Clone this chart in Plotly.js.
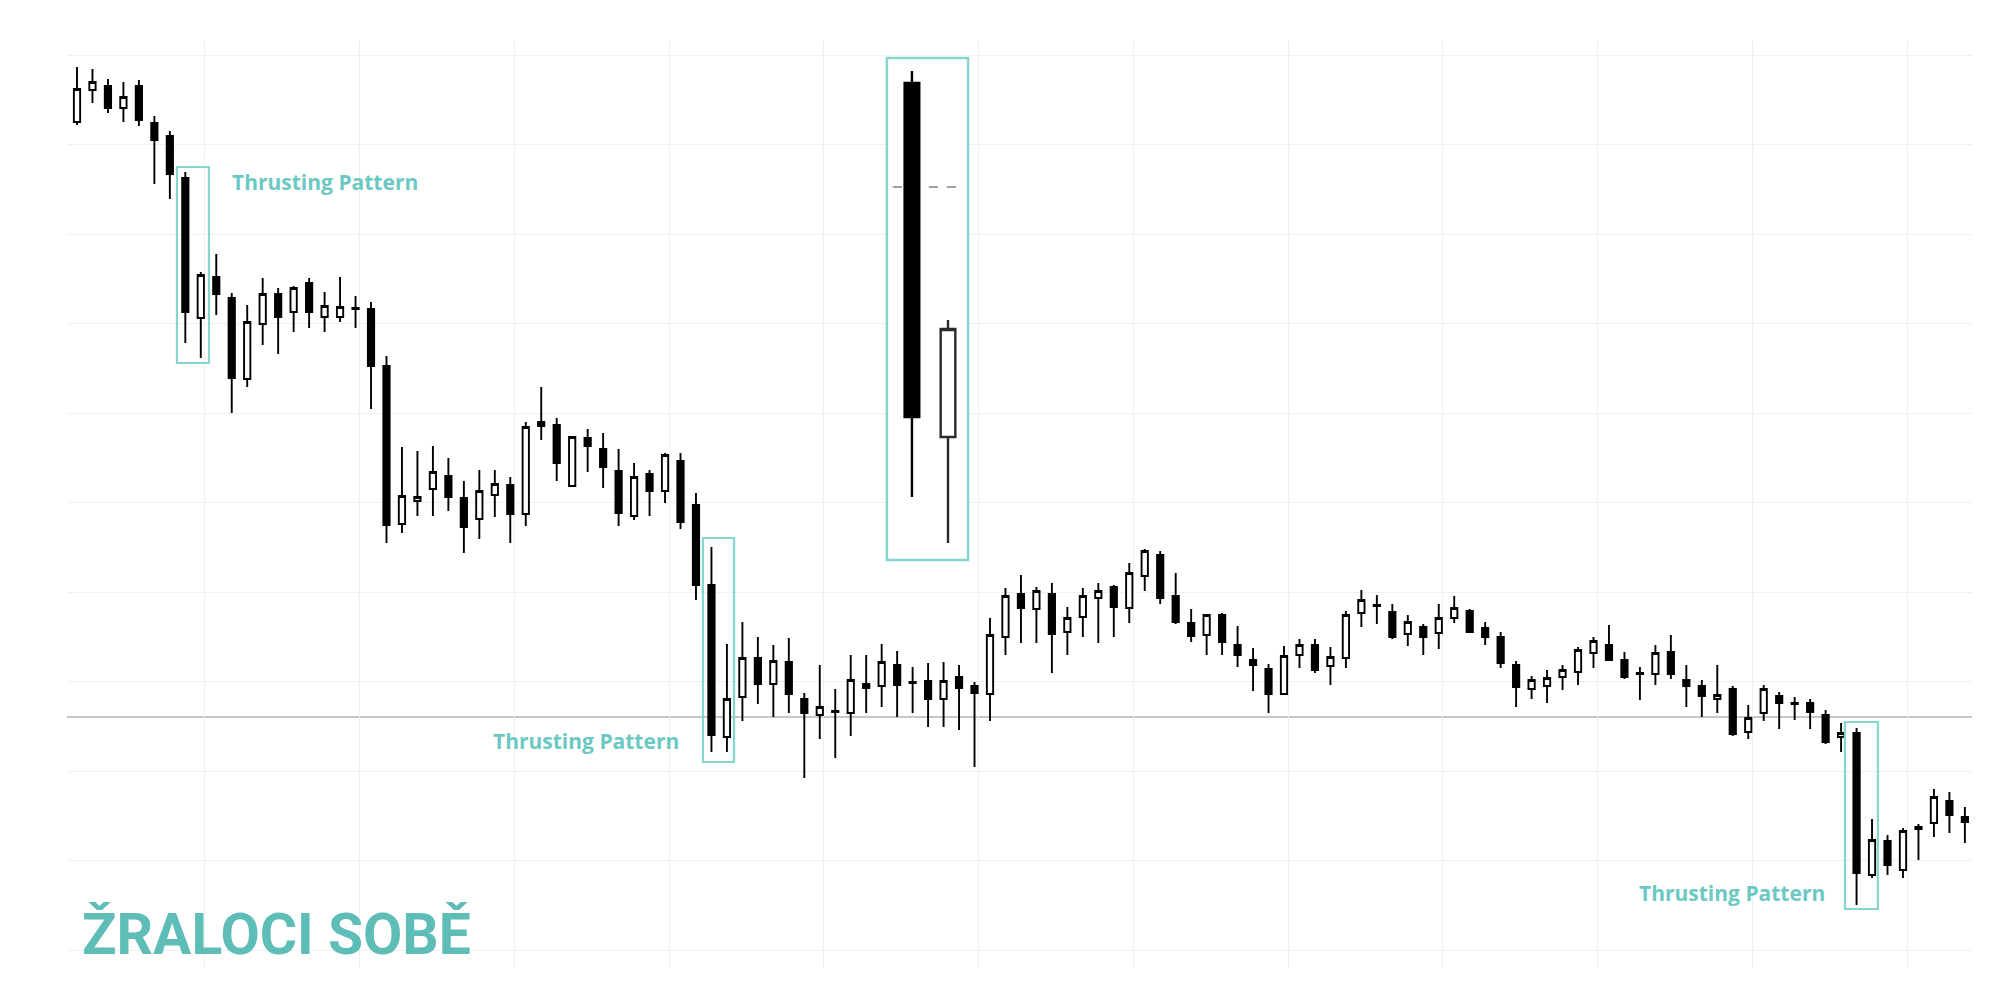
<!DOCTYPE html>
<html>
<head>
<meta charset="utf-8">
<script src="https://cdn.plot.ly/plotly-3.0.1.min.js"></script>
<style>html,body{margin:0;padding:0;background:#fff;}#chart{width:2000px;height:997px;}</style>
</head>
<body>
<div id="chart"></div>
<script>
// Main series (price units, no axis labels in the original)
const open  = [878,910,914,892,914,877,864,822,682,723,702,621,676,706,688,717,683,683,692,691,
               634,476,499,511,524,502,481,505,515,486,578,575,514,562,551,529,484,526,509,539,
               495,415,263,303,342,316,338,301,285,289,287,316,314,335,317,319,301,323,314,306,
               363,406,391,406,368,383,402,413,392,424,445,404,377,365,385,355,340,331,306,345,
               355,334,342,387,394,388,366,373,367,382,389,372,363,335,311,314,323,328,347,355,
               340,326,326,348,320,314,301,311,268,287,304,297,297,285,263,267,125,159,130,173,
               177,199,183];
const high  = [933,931,921,918,920,884,869,828,728,746,707,695,722,712,714,722,708,723,704,698,
               644,553,549,554,542,519,530,530,523,578,613,582,564,571,567,551,537,530,547,547,
               507,453,356,378,363,355,362,307,335,311,345,345,356,349,333,337,338,335,318,382,
               412,425,413,417,393,412,417,415,437,451,449,427,391,386,387,374,352,336,354,361,
               361,353,389,410,405,396,385,376,396,404,391,378,368,339,324,330,335,353,363,375,
               348,333,355,365,335,320,335,314,295,315,308,303,301,290,277,272,181,165,172,176,
               211,208,193];
const low   = [875,897,887,878,874,816,801,657,642,685,587,613,655,646,668,672,668,678,672,591,
               457,467,484,484,489,447,461,483,457,474,560,519,513,528,512,474,480,484,497,471,
               400,248,248,279,296,283,287,222,261,242,264,287,293,283,287,273,273,270,233,279,
               345,357,357,327,345,363,357,363,377,409,396,376,358,345,345,333,309,287,305,332,
               327,315,332,373,376,361,354,345,351,377,367,355,332,293,301,297,310,315,332,339,
               321,300,315,321,293,283,287,264,261,279,271,280,271,256,248,95,122,125,122,140,
               163,167,157];
const close = [911,918,892,903,880,860,826,688,725,706,622,678,706,683,712,688,694,693,691,634,
               475,504,503,528,503,473,509,516,486,573,574,537,563,554,533,487,523,509,545,478,
               415,265,301,342,316,339,306,287,293,288,320,312,338,315,318,301,319,312,307,365,
               404,392,409,366,382,404,409,393,427,449,402,378,364,385,358,345,335,306,344,355,
               330,343,385,400,395,363,378,363,382,392,368,363,337,313,320,322,330,350,359,340,
               323,327,347,326,314,304,305,266,282,311,297,296,288,258,267,127,160,135,169,171,
               203,185,178];
const idx = open.map((_, i) => i);

// Inset illustration: the two candles of the pattern, enlarged
const insetX     = [0, 1];
const insetOpen  = [917, 563];
const insetHigh  = [929, 680];
const insetLow   = [503, 457];
const insetClose = [583, 671];

const labelText = 'Thrusting Pattern';
const logoText  = 'ŽRALOCI SOBĚ';

const teal = '#6cc8c2';
const boxTeal = '#86d6d0';

const traces = [
  {
    type: 'candlestick', x: idx, open: open, high: high, low: low, close: close,
    xaxis: 'x', yaxis: 'y', hoverinfo: 'none', showlegend: false,
    increasing: {line: {color: '#000', width: 1.9}, fillcolor: '#ffffff'},
    decreasing: {line: {color: '#000', width: 1.9}, fillcolor: '#000000'},
    whiskerwidth: 0
  },
  {
    type: 'candlestick', x: insetX, open: insetOpen, high: insetHigh, low: insetLow, close: insetClose,
    xaxis: 'x2', yaxis: 'y2', hoverinfo: 'none', showlegend: false,
    increasing: {line: {color: '#2a2a2a', width: 2.4}, fillcolor: '#ffffff'},
    decreasing: {line: {color: '#000', width: 2.4}, fillcolor: '#000000'},
    whiskerwidth: 0
  }
];

const layout = {
  width: 2000, height: 997,
  margin: {l: 67, r: 28, t: 40, b: 29, pad: 0},
  paper_bgcolor: '#ffffff', plot_bgcolor: '#ffffff',
  showlegend: false,
  boxgap: 0.42,
  xaxis: {
    range: [-0.646, 122.46], showgrid: true, gridcolor: '#f0f0f0', gridwidth: 1,
    tick0: 8.27, dtick: 10, showticklabels: false, ticks: '', zeroline: false,
    showline: false, rangeslider: {visible: false}, fixedrange: true
  },
  yaxis: {
    range: [32, 960], showgrid: true, gridcolor: '#f0f0f0', gridwidth: 1,
    tick0: 50, dtick: 89.5, showticklabels: false, ticks: '', zeroline: false,
    showline: false, fixedrange: true
  },
  xaxis2: {
    domain: [0.4304, 0.4730], anchor: 'y2', range: [-0.694, 1.556],
    visible: false, showgrid: false, zeroline: false, rangeslider: {visible: false}, fixedrange: true
  },
  yaxis2: {
    domain: [0.4397, 0.9806], anchor: 'x2', range: [440, 942],
    visible: false, showgrid: false, zeroline: false, fixedrange: true
  },
  shapes: [
    {type: 'line', xref: 'paper', yref: 'y', x0: 0, x1: 1, y0: 283, y1: 283,
     line: {color: '#b5b5b5', width: 1.5}, layer: 'below'},
    {type: 'line', xref: 'x2', yref: 'y2', x0: -0.528, x1: 1.444, y0: 813, y1: 813,
     line: {color: '#a0a0a0', width: 2, dash: 'dash'}, layer: 'below'},
    {type: 'rect', xref: 'x2 domain', yref: 'y2 domain', x0: 0, x1: 1, y0: 0, y1: 1,
     line: {color: boxTeal, width: 2.5}, fillcolor: 'rgba(0,0,0,0)'},
    {type: 'rect', xref: 'x', yref: 'y', x0: 6.46, x1: 8.53, y0: 637, y1: 833,
     line: {color: boxTeal, width: 2.2}, fillcolor: 'rgba(0,0,0,0)'},
    {type: 'rect', xref: 'x', yref: 'y', x0: 40.45, x1: 42.46, y0: 238, y1: 462,
     line: {color: boxTeal, width: 2.2}, fillcolor: 'rgba(0,0,0,0)'},
    {type: 'rect', xref: 'x', yref: 'y', x0: 114.25, x1: 116.38, y0: 91, y1: 278,
     line: {color: boxTeal, width: 2.2}, fillcolor: 'rgba(0,0,0,0)'}
  ],
  annotations: [
    {text: labelText, xref: 'x', yref: 'y', x: 9.89, y: 818, xanchor: 'left', yanchor: 'middle',
     showarrow: false, font: {family: 'Open Sans', size: 21, color: teal, weight: 700}},
    {text: labelText, xref: 'x', yref: 'y', x: 26.75, y: 259, xanchor: 'left', yanchor: 'middle',
     showarrow: false, font: {family: 'Open Sans', size: 21, color: teal, weight: 700}},
    {text: labelText, xref: 'x', yref: 'y', x: 100.8, y: 107, xanchor: 'left', yanchor: 'middle',
     showarrow: false, font: {family: 'Open Sans', size: 21, color: teal, weight: 700}},
    {text: logoText, xref: 'x', yref: 'y', x: 0.2, y: 66, xanchor: 'left', yanchor: 'middle',
     showarrow: false, font: {family: 'Roboto', size: 57, color: '#5fbdb7', weight: 700}}
  ]
};

Plotly.newPlot('chart', traces, layout, {staticPlot: true, displayModeBar: false});
</script>
</body>
</html>
